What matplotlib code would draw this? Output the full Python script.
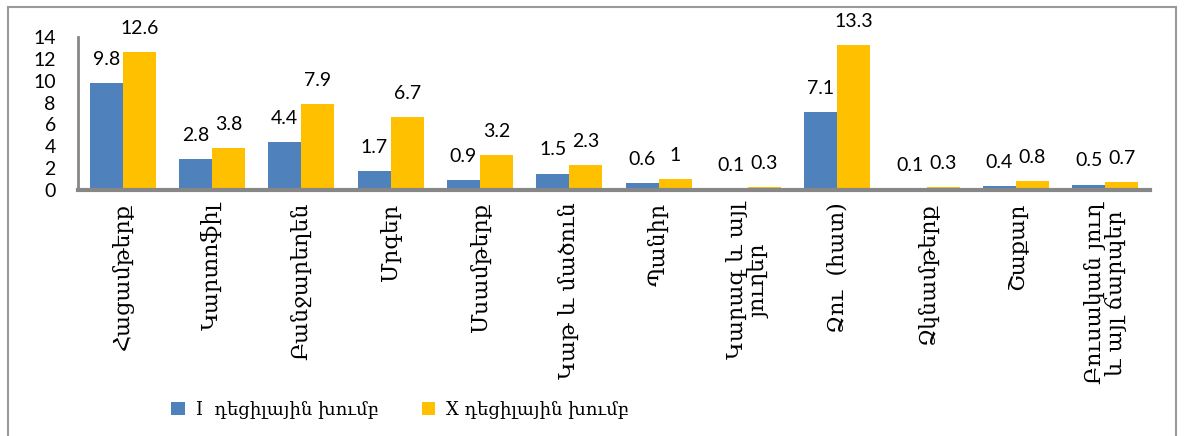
import matplotlib
matplotlib.use("Agg")
import matplotlib.pyplot as plt
from matplotlib.patches import Rectangle
import numpy as np

categories = ["Հացամթերք", "Կարտոֆիլ", "Բանջարեղեն", "Մրգեր", "Մսամթերք",
              "Կաթ և մածուն", "Պանիր", "Կարագ և այլ\nյուղեր", "Ձու  (հատ)",
              "Ձկնամթերք", "Շաքար", "Բուսական յուղ\nև այլ ճարպեր"]
series_I = [9.8, 2.8, 4.4, 1.7, 0.9, 1.5, 0.6, 0.1, 7.1, 0.1, 0.4, 0.5]
series_X = [12.6, 3.8, 7.9, 6.7, 3.2, 2.3, 1, 0.3, 13.3, 0.3, 0.8, 0.7]
series_names = ["I  դեցիլային խումբ", "X դեցիլային խումբ"]
yticks = [0, 2, 4, 6, 8, 10, 12, 14]

blue = "#4F81BD"
gold = "#FFC000"
gray = "#878787"
serif = ["DejaVu Serif", "DejaVu Sans"]
sans = ["Lato", "DejaVu Sans"]

fig = plt.figure(figsize=(11.84, 4.36), dpi=100)
ax = fig.add_axes([78/1184, 1-190/436, (1150-78)/1184, (190-37)/436])

# outer border
fig.patches.append(Rectangle((8/1184, -0.05), (1176-8)/1184, 1-7/436+0.05,
                             transform=fig.transFigure, fill=False,
                             edgecolor="#9a9a9a", linewidth=1.5))

x = np.arange(len(categories))
w = 0.37
b1 = ax.bar(x - w/2, series_I, w, color=blue, label=series_names[0])
b2 = ax.bar(x + w/2, series_X, w, color=gold, label=series_names[1])

for bars in (b1, b2):
    for r in bars:
        ax.annotate(f"{r.get_height():g}", (r.get_x() + r.get_width()/2, r.get_height()),
                    xytext=(0, 17), textcoords="offset points", ha="center", va="center",
                    fontsize=14, family=sans, annotation_clip=False)

ax.set_xlim(-0.5, len(categories) - 0.5)
ax.set_ylim(0, 14)
ax.set_yticks(yticks)
ax.set_yticklabels([str(t) for t in yticks], fontsize=14, family=sans)
ax.tick_params(axis="y", length=0, pad=16)
ax.set_xticks(x)
ax.set_xticklabels(categories, rotation=90, fontsize=16, family=serif,
                   va="top", ha="center", multialignment="center",
                   linespacing=0.95)
ax.tick_params(axis="x", length=0, pad=9)

for s in ("top", "right"):
    ax.spines[s].set_visible(False)
ax.spines["left"].set_color(gray)
ax.spines["left"].set_linewidth(2)
ax.spines["bottom"].set_color(gray)
ax.spines["bottom"].set_linewidth(3)

fig.legend(loc="center left", bbox_to_anchor=(155/1184, 1-410/436), ncol=2,
           frameon=False, prop={"family": serif, "size": 13},
           handlelength=0.75, handleheight=0.75, handletextpad=0.6,
           columnspacing=2.4)

fig.savefig("out.png", dpi=100)
